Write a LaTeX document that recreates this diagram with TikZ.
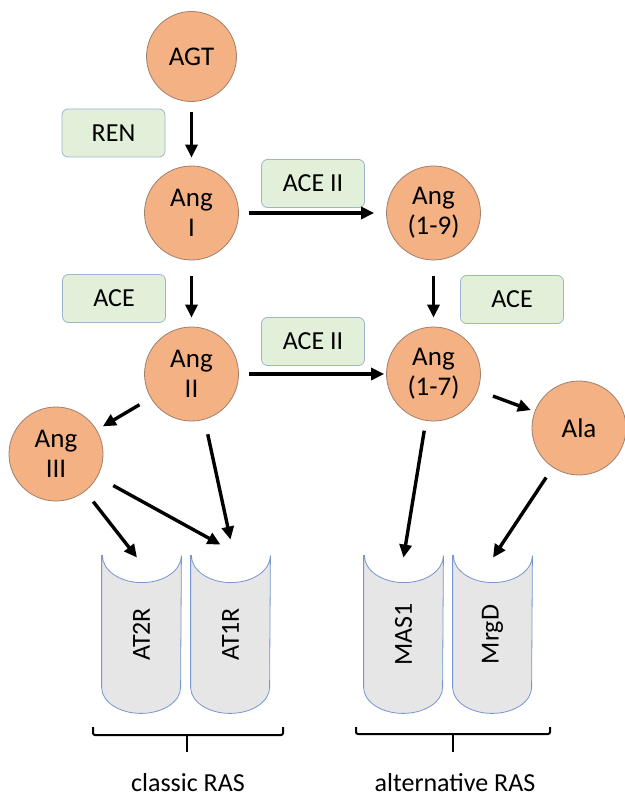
\documentclass[tikz,border=0pt]{standalone}
\usepackage{fontspec}
\setmainfont{Carlito}
\usepackage{graphicx}
\usetikzlibrary{arrows.meta,calc,backgrounds}
\definecolor{peach}{HTML}{F4B183}
\definecolor{peachline}{HTML}{A0806C}
\definecolor{mint}{HTML}{E2F0D9}
\definecolor{mintline}{HTML}{9DB4CF}
\definecolor{silver}{HTML}{E7E6E6}
\definecolor{steel}{HTML}{7596CF}

% open-topped receptor drum round a named node
\newcommand\cylinder[1]{%
  \draw[cyl] (#1.north west) -- ($(#1.south west)+(0,26)$)
    arc[start angle=180,end angle=360,x radius=39.5,y radius=26]
    -- (#1.north east)
    arc[start angle=0,end angle=-180,x radius=39.5,y radius=27] -- cycle;}

\begin{document}
\begin{tikzpicture}[x=0.5pt,y=0.5pt,
  circ/.style={circle,draw=peachline,fill=peach,line width=0.4pt,minimum size=47pt,inner sep=0pt,align=center,font=\fontsize{13.5}{15}\selectfont},
  enz/.style={rectangle,rounded corners=3pt,draw=mintline,fill=mint,line width=0.4pt,minimum width=51.5pt,minimum height=24pt,font=\fontsize{13}{15}\selectfont},
  recep/.style={rectangle,minimum width=39.5pt,minimum height=78.5pt,inner sep=0pt,font=\fontsize{13}{15}\selectfont},
  cyl/.style={draw=steel,fill=silver,line width=0.4pt},
  lbl/.style={font=\fontsize{13}{15}\selectfont},
  arr/.style={-{Triangle[length=6.5pt,width=6pt]},line width=1.7pt},
  brace/.style={line width=1pt,rounded corners=1pt}]
  \useasboundingbox (0,0) rectangle (625,-796);
  % peptides
  \node[circ,minimum size=45pt] (agt) at (191.5,-56.5) {AGT};
  \node[circ] (angI) at (191.5,-213) {Ang\\I};
  \node[circ] (ang19) at (433.5,-213) {Ang\\(1-9)};
  \node[circ] (angII) at (191.5,-374) {Ang\\II};
  \node[circ] (ang17) at (433.5,-374) {Ang\\(1-7)};
  \node[circ] (angIII) at (56,-454) {Ang\\III};
  \node[circ] (ala) at (579,-428) {Ala};
  % enzymes
  \node[enz] (ren) at (113.5,-133) {REN};
  \node[enz] (aceIIa) at (313,-183.5) {ACE II};
  \node[enz] (acea) at (114,-298.5) {ACE};
  \node[enz] (aceIIb) at (313,-341.5) {ACE II};
  \node[enz] (aceb) at (512,-299.5) {ACE};
  % receptors
  \node[recep] (at2r) at (141.5,-634.5) {\rotatebox{90}{AT2R}};
  \node[recep] (at1r) at (230.5,-634.5) {\rotatebox{90}{AT1R}};
  \node[recep] (mas1) at (403.5,-634.5) {\rotatebox{90}{MAS1}};
  \node[recep] (mrgd) at (492.5,-634.5) {\rotatebox{90}{MrgD}};
  \begin{scope}[on background layer]
    \foreach \r in {at2r,at1r,mas1,mrgd} {\cylinder{\r}}
  \end{scope}
  % cascade
  \draw[arr,shorten <=5pt,shorten >=4pt] (agt) -- (angI);
  \draw[arr,shorten <=5pt,shorten >=6pt] (angI) -- (ang19);
  \draw[arr,shorten <=8pt,shorten >=4.5pt] (angI) -- (angII);
  \draw[arr,shorten <=8pt,shorten >=4.5pt] (ang19) -- (ang17);
  \draw[arr,shorten <=5pt,shorten >=1pt] (angII) -- (ang17);
  \draw[arr,shorten <=6.5pt,shorten >=3.5pt] (angII) -- (angIII);
  \draw[arr,shorten <=8pt,shorten >=2pt] (ang17) -- (ala);
  \draw[arr,shorten <=7.5pt] (angII.-74) -- ($(at1r.north)+(0,16)$);
  \draw[arr,shorten <=9pt] (angIII) -- ($(at1r.north)+(-10,11)$);
  \draw[arr,shorten <=6.5pt] (angIII) -- ($(at2r.north)+(-4.5,-2)$);
  \draw[arr,shorten <=5pt] (ang17) -- ($(mas1.north)+(0,-2)$);
  \draw[arr,shorten <=6pt] (ala) -- ($(mrgd.north)+(0.5,-2)$);
  % groups
  \draw[brace] (93,-727) -- (93,-735) -- (283,-735) -- (283,-727);
  \draw[brace] (187,-735) -- (187,-752);
  \draw[brace] (356,-727) -- (356,-734) -- (550,-734) -- (550,-727);
  \draw[brace] (453,-734) -- (453,-752);
  \node[lbl] (classic) at (188,-783) {classic RAS};
  \node[lbl] (alt) at (455,-783) {alternative RAS};
\end{tikzpicture}
\end{document}
